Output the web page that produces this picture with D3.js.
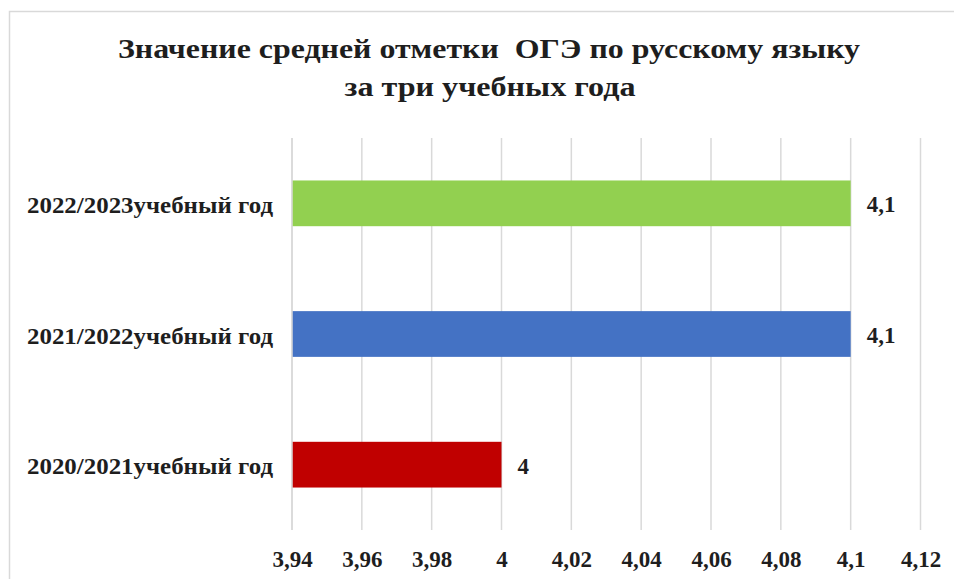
<!DOCTYPE html>
<html><head><meta charset="utf-8">
<script src="https://cdn.jsdelivr.net/npm/d3@7"></script>
</head><body style="margin:0">
<script>
const categories = ["2022/2023учебный год", "2021/2022учебный год", "2020/2021учебный год"];
const values = [4.1, 4.1, 4.0];
const valueLabels = ["4,1", "4,1", "4"];
const colors = ["#92d050", "#4472c4", "#c00000"];
const tickValues = [3.94, 3.96, 3.98, 4.0, 4.02, 4.04, 4.06, 4.08, 4.1, 4.12];
const tickLabels = ["3,94", "3,96", "3,98", "4", "4,02", "4,04", "4,06", "4,08", "4,1", "4,12"];
const titleLines = ["Значение средней отметки  ОГЭ по русскому языку", "за три учебных года"];

const W = 954, H = 579;
const FF = '"Liberation Serif", "Times New Roman", Tinos, monospace';
const svg = d3.select("body").append("svg").attr("width", W).attr("height", H)
  .style("display", "block").attr("font-family", "Liberation Serif");

svg.append("rect").attr("x", 9.5).attr("y", 11.5).attr("width", W).attr("height", H)
  .attr("fill", "#fff").attr("stroke", "#d9d9d9").attr("stroke-width", 1.5);

const x = d3.scaleLinear().domain([3.94, 4.12]).range([292, 920.5]);
const y = d3.scaleBand().domain(categories).range([138, 530]).paddingInner(0.65).paddingOuter(0.325);

svg.append("g").selectAll("line").data(tickValues).join("line")
  .attr("x1", d => x(d)).attr("x2", d => x(d)).attr("y1", 138).attr("y2", 530)
  .attr("stroke", "#d9d9d9").attr("stroke-width", 1.5);

svg.append("g").selectAll("rect").data(categories).join("rect")
  .attr("x", x(3.94)).attr("y", d => y(d))
  .attr("width", (d, i) => x(values[i]) - x(3.94)).attr("height", y.bandwidth())
  .attr("fill", (d, i) => colors[i]);

svg.append("line").attr("x1", x(3.94)).attr("x2", x(3.94)).attr("y1", 138).attr("y2", 530)
  .attr("stroke", "#d9d9d9").attr("stroke-width", 1.5);

function styleText(sel, size) {
  return sel.attr("font-family", "Liberation Serif")
    .style("font-family", FF, "important")
    .attr("font-weight", "bold").attr("font-size", size).attr("fill", "#1e1e1e");
}

styleText(svg.append("g").selectAll("text").data(categories).join("text")
  .attr("x", (d, i) => x(values[i]) + 16).attr("y", d => y(d) + y.bandwidth() / 2 + 9)
  .text((d, i) => valueLabels[i]), 23);

styleText(svg.append("g").selectAll("text").data(categories).join("text")
  .attr("x", 273).attr("y", d => y(d) + y.bandwidth() / 2 + 9.5)
  .attr("text-anchor", "end")
  .attr("textLength", 246).attr("lengthAdjust", "spacingAndGlyphs")
  .text(d => d), 23);

const xAxis = d3.axisBottom(x).tickValues(tickValues).tickFormat((d, i) => tickLabels[i]).tickSize(0);
const gx = svg.append("g").attr("transform", "translate(0,549)").call(xAxis);
gx.attr("font-family", "Liberation Serif").attr("font-size", null);
gx.select(".domain").remove();
styleText(gx.selectAll("text").attr("dy", null).attr("y", 18), 23);

styleText(svg.append("g").selectAll("text").data(titleLines).join("text")
  .attr("x", (d, i) => i === 0 ? 489 : 490).attr("y", (d, i) => 58 + i * 38)
  .attr("text-anchor", "middle")
  .attr("textLength", (d, i) => i === 0 ? 742 : 291).attr("lengthAdjust", "spacingAndGlyphs")
  .attr("xml:space", "preserve")
  .text(d => d), 28);
</script>
</body></html>
